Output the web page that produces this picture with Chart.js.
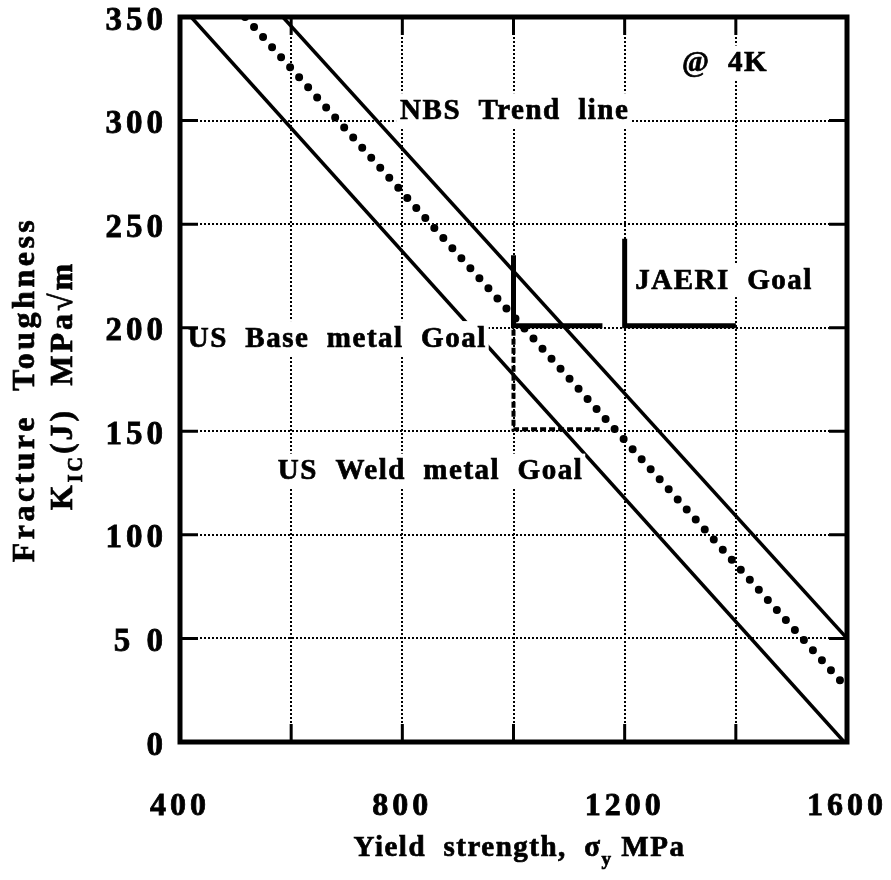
<!DOCTYPE html>
<html>
<head>
<meta charset="utf-8">
<script src="https://cdn.jsdelivr.net/npm/chart.js@4.4.1/dist/chart.umd.min.js"></script>
<style>
  html, body { margin: 0; padding: 0; background: #fff; }
  #wrap { width: 891px; height: 880px; }
</style>
</head>
<body>
<div id="wrap"><canvas id="myChart" width="891" height="880"></canvas></div>
<script>
// Axes
const xTickValues = [400, 800, 1200, 1600];
const xTickLabels = ['400', '800', '1200', '1600'];
const yTickValues = [0, 50, 100, 150, 200, 250, 300, 350];
const yTickLabels = ['0', '5 0', '100', '150', '200', '250', '300', '350'];

// NBS trend band (upper / trend / lower)
const upperX = [585, 1600];
const upperY = [350, 50];
const trendX = [517, 1600];
const trendY = [350, 26];
const lowerX = [420, 1595];
const lowerY = [350, 0];

// Goals
const baseGoalX = [1000, 1000, 1160];
const baseGoalY = [235, 201, 201];
const jaeriGoalX = [1200, 1200, 1400];
const jaeriGoalY = [243, 201, 201];
const weldGoalX = [1000, 1000, 1155];
const weldGoalY = [199, 151, 151];

// Annotations (data coordinates, left edge / vertical middle)
const noteTexts = ['NBS  Trend  line', '@  4K', 'JAERI  Goal', 'US  Base  metal  Goal', 'US  Weld  metal  Goal'];
const noteX = [796, 1303, 1219, 414, 576];
const noteY = [305, 328, 223, 195, 131];

const SERIF = '"Liberation Serif", "Times New Roman", serif';

function pts(xs, ys) {
    return xs.map((x, i) => ({ x: x, y: ys[i] }));
}

function ligne(xs, ys, width, dash, cap) {
    return {
        data: pts(xs, ys),
        showLine: true,
        borderColor: '#000',
        borderWidth: width,
        borderDash: dash || [],
        borderCapStyle: cap || 'butt',
        borderJoinStyle: 'miter',
        pointRadius: 0,
        pointHoverRadius: 0,
        fill: false,
        tension: 0
    };
}

// heavier text, like the scanned original
function ecrire(ctx, t, x, y) {
    ctx.fillText(t, x, y);
    ctx.strokeText(t, x, y);
}

// tick labels with wider spacing, reset before the datasets
const espacement = {
    id: 'espacement',
    beforeDraw(chart) { chart.ctx.letterSpacing = '4px'; },
    beforeDatasetsDraw(chart) { chart.ctx.letterSpacing = '0px'; }
};

// text boxes inside the plot
const notes = {
    id: 'notes',
    afterDatasetsDraw(chart) {
        const ctx = chart.ctx;
        const xs = chart.scales.x, ys = chart.scales.y;
        ctx.save();
        ctx.font = 'bold 29px ' + SERIF;
        ctx.letterSpacing = '1.5px';
        ctx.textBaseline = 'middle';
        ctx.textAlign = 'left';
        ctx.strokeStyle = '#000';
        ctx.lineWidth = 0.7;
        noteTexts.forEach((t, i) => {
            const px = xs.getPixelForValue(noteX[i]);
            const py = ys.getPixelForValue(noteY[i]);
            const w = ctx.measureText(t).width;
            ctx.fillStyle = '#fff';
            ctx.fillRect(px - 4, py - 17, w + 6, 34);
            ctx.fillStyle = '#000';
            ecrire(ctx, t, px, py + 1);
        });
        ctx.restore();
    }
};

// frame, inner ticks and axis titles
const cadre = {
    id: 'cadre',
    afterDraw(chart) {
        const ctx = chart.ctx;
        const a = chart.chartArea;
        const xs = chart.scales.x, ys = chart.scales.y;
        ctx.save();
        ctx.letterSpacing = '0px';
        ctx.strokeStyle = '#000';
        ctx.lineWidth = 3;
        xs.ticks.forEach(t => {
            const px = xs.getPixelForValue(t.value);
            ctx.beginPath();
            ctx.moveTo(px, a.bottom); ctx.lineTo(px, a.bottom - 18);
            ctx.moveTo(px, a.top); ctx.lineTo(px, a.top + 18);
            ctx.stroke();
        });
        ys.ticks.forEach(t => {
            const py = ys.getPixelForValue(t.value);
            ctx.beginPath();
            ctx.moveTo(a.left, py); ctx.lineTo(a.left + 18, py);
            ctx.moveTo(a.right, py); ctx.lineTo(a.right - 18, py);
            ctx.stroke();
        });
        ctx.lineWidth = 5;
        ctx.strokeRect(a.left, a.top, a.right - a.left, a.bottom - a.top);

        // x title
        ctx.fillStyle = '#000';
        ctx.lineWidth = 0.7;
        ctx.textBaseline = 'alphabetic';
        ctx.textAlign = 'left';
        const big = 'bold 29px ' + SERIF, small = 'bold 19px ' + SERIF;
        ctx.letterSpacing = '1.5px';
        const xParts = [['Yield  strength,  σ', big, 0], ['y', small, 9], [' MPa', big, 0]];
        let total = 0;
        xParts.forEach(p => { ctx.font = p[1]; total += ctx.measureText(p[0]).width; });
        let cx = (a.left + a.right) / 2 + 6 - total / 2;
        xParts.forEach(p => {
            ctx.font = p[1];
            ecrire(ctx, p[0], cx, 856 + p[2]);
            cx += ctx.measureText(p[0]).width;
        });

        // y titles (rotated)
        const cy = (a.top + a.bottom) / 2 + 10;
        ctx.translate(34, cy);
        ctx.rotate(-Math.PI / 2);
        ctx.font = 'bold 32px ' + SERIF;
        ctx.letterSpacing = '3.5px';
        ctx.textAlign = 'center';
        ecrire(ctx, 'Fracture  Toughness', 0, 0);
        ctx.rotate(Math.PI / 2);
        ctx.translate(-34, -cy);

        ctx.translate(72, cy - 4);
        ctx.rotate(-Math.PI / 2);
        ctx.textAlign = 'left';
        ctx.letterSpacing = '3px';
        const yBig = 'bold 32px ' + SERIF, ySmall = 'bold 20px ' + SERIF;
        const yParts = [['K', yBig, 0], ['IC', ySmall, 10], ['(J)  MPa√m', yBig, 0]];
        let tot2 = 0;
        yParts.forEach(p => { ctx.font = p[1]; tot2 += ctx.measureText(p[0]).width; });
        let sx = -tot2 / 2;
        yParts.forEach(p => {
            ctx.font = p[1];
            ecrire(ctx, p[0], sx, p[2]);
            sx += ctx.measureText(p[0]).width;
        });
        ctx.restore();
    }
};

Chart.defaults.animation = false;
const ctx = document.getElementById('myChart').getContext('2d');
const myChart = new Chart(ctx, {
    type: 'scatter',
    data: {
        datasets: [
            ligne(upperX, upperY, 3.5),
            ligne(lowerX, lowerY, 3.5),
            ligne(trendX, trendY, 8, [0, 13.5], 'round'),
            ligne(baseGoalX, baseGoalY, 5),
            ligne(jaeriGoalX, jaeriGoalY, 5),
            ligne(weldGoalX, weldGoalY, 4, [6, 3])
        ]
    },
    options: {
        responsive: false,
        maintainAspectRatio: false,
        devicePixelRatio: 1,
        layout: { padding: { left: 0, right: 44, top: 17, bottom: 0 } },
        plugins: { legend: { display: false }, tooltip: { enabled: false } },
        scales: {
            x: {
                type: 'linear',
                min: 400, max: 1600,
                afterFit(scale) {
                    scale.height = 138;
                    scale.paddingLeft = 0;
                    scale.paddingRight = 0;
                },
                grid: { color: '#000', lineWidth: 2, drawTicks: false },
                border: { display: false, dash: [2, 2] },
                ticks: {
                    stepSize: 200,
                    padding: 46,
                    color: '#000',
                    textStrokeColor: '#000',
                    textStrokeWidth: 0.8,
                    font: { family: SERIF, size: 32, weight: 'bold' },
                    maxRotation: 0,
                    autoSkip: false,
                    callback: (v) => {
                        const i = xTickValues.indexOf(v);
                        return i >= 0 ? xTickLabels[i] : '';
                    }
                }
            },
            y: {
                type: 'linear',
                min: 0, max: 350,
                afterFit(scale) {
                    scale.width = 180;
                    scale.paddingTop = 0;
                    scale.paddingBottom = 0;
                },
                grid: { color: '#000', lineWidth: 2, drawTicks: false },
                border: { display: false, dash: [2, 2] },
                ticks: {
                    stepSize: 50,
                    padding: 13,
                    labelOffset: 4,
                    color: '#000',
                    textStrokeColor: '#000',
                    textStrokeWidth: 0.8,
                    font: { family: SERIF, size: 33, weight: 'bold' },
                    autoSkip: false,
                    callback: (v) => {
                        const i = yTickValues.indexOf(v);
                        return i >= 0 ? yTickLabels[i] : '';
                    }
                }
            }
        }
    },
    plugins: [espacement, notes, cadre]
});
</script>
</body>
</html>
